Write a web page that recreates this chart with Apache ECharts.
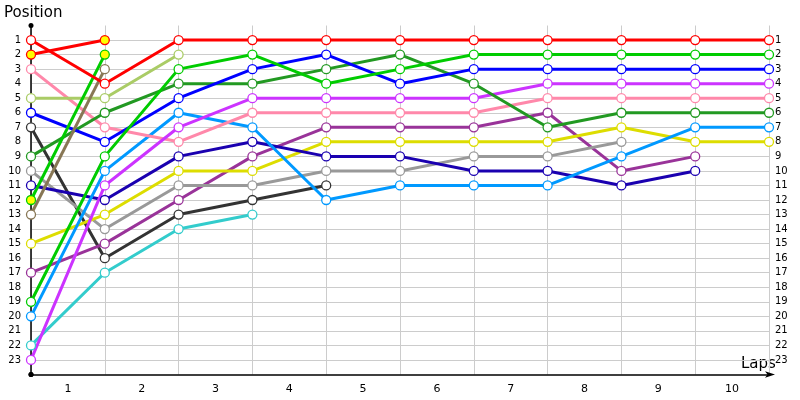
<!DOCTYPE html>
<html><head><meta charset="utf-8">
<script src="https://cdn.jsdelivr.net/npm/echarts@6/dist/echarts.min.js"></script>
<style>html,body{margin:0;padding:0;background:#fff}#c{width:800px;height:400px}</style>
</head><body><div id="c"></div>
<script>
const lapLabels = ['1','2','3','4','5','6','7','8','9','10'];
const posLabels = ['1','2','3','4','5','6','7','8','9','10','11','12','13','14','15','16','17','18','19','20','21','22','23'];

const redA      = [1,4,1,1,1,1,1,1,1,1,1];
const redB      = [2,1];
const pink      = [3,7,8,6,6,6,6,5,5,5,5];
const lightGreen= [5,5,2];
const blue      = [6,8,5,3,2,4,3,3,3,3,3];
const black     = [7,16,13,12,11];
const forest    = [9,6,4,4,3,2,4,7,6,6,6];
const gray      = [10,14,11,11,10,10,9,9,8];
const navy      = [11,12,9,8,9,9,10,10,11,10];
const greenB    = [12,2];
const olive     = [13,3];
const yellow    = [15,13,10,10,8,8,8,8,7,8,8];
const purple    = [17,15,12,9,7,7,7,6,10,9];
const green     = [19,9,3,2,4,3,2,2,2,2,2];
const sky       = [20,10,6,7,12,11,11,11,9,7,7];
const cyan      = [22,17,14,13];
const violet    = [23,11,7,5,5,5,5,4,4,4,4];

const seriesDefs = [
  {vals: cyan, color:'#33cccc'},
  {vals: black, color:'#333333'},
  {vals: purple, color:'#993399'},
  {vals: gray, color:'#999999'},
  {vals: yellow, color:'#dddd00'},
  {vals: navy, color:'#1a00b0'},
  {vals: sky, color:'#0099ff'},
  {vals: pink, color:'#ff88aa'},
  {vals: violet, color:'#cc33ff'},
  {vals: forest, color:'#229922'},
  {vals: blue, color:'#0000ff'},
  {vals: lightGreen, color:'#aacc66'},
  {vals: olive, color:'#887755'},
  {vals: green, color:'#00cc00'},
  {vals: greenB, color:'#00cc00', fill:'#ffff00'},
  {vals: redB, color:'#ff0000', fill:'#ffff00'},
  {vals: redA, color:'#ff0000'}
];

const series = seriesDefs.map(d => ({
  type:'line',
  xAxisIndex:0, yAxisIndex:0,
  data: d.vals.map((v,i)=>[i,v]),
  symbol:'circle', symbolSize:9,
  lineStyle:{color:d.color, width:3},
  itemStyle:{color: d.fill || '#ffffff', borderColor:d.color, borderWidth:1.3},
  emphasis:{disabled:true},
  z: 3
}));

const splitColors = [];
for (let i=0;i<=24;i++) splitColors.push((i===0||i===24)?'rgba(0,0,0,0)':'#cccccc');

const font = 'DejaVu Sans';
const chart = echarts.init(document.getElementById('c'), null, {renderer:'canvas'});
chart.setOption({
  animation:false,
  grid:{left:31, right:31, top:25.5, bottom:25.5, containLabel:false},
  xAxis:[
    {type:'value', min:0, max:10, interval:1, position:'bottom',
     axisLabel:{show:false}, axisTick:{show:false},
     axisLine:{show:true, onZero:false, lineStyle:{color:'#000', width:1.5}, symbol:['circle','arrow'], symbolSize:[5,10], symbolOffset:[0,6]},
     splitLine:{show:true, lineStyle:{color:'#cccccc', width:1}}},
    {type:'category', data:lapLabels, boundaryGap:true, position:'bottom',
     axisLine:{show:false, onZero:false}, axisTick:{show:false}, splitLine:{show:false},
     axisLabel:{color:'#000', fontFamily:font, fontSize:11, margin:9}}
  ],
  yAxis:[
    {type:'value', inverse:true, min:0, max:24, interval:1,
     axisLine:{show:true, onZero:false, lineStyle:{color:'#000', width:1.5}, symbol:['circle','circle'], symbolSize:[5,5]},
     axisTick:{show:false},
     axisLabel:{color:'#000', fontFamily:font, fontSize:10, margin:10,
       formatter:v => (v>=1 && v<=23) ? posLabels[v-1] : ''},
     splitLine:{show:true, lineStyle:{color:splitColors, width:1}}},
    {type:'value', inverse:true, min:0, max:24, interval:1, position:'right',
     axisLine:{show:false, onZero:false}, axisTick:{show:false}, splitLine:{show:false},
     axisLabel:{color:'#000', fontFamily:font, fontSize:10, margin:6,
       formatter:v => (v>=1 && v<=23) ? posLabels[v-1] : ''}}
  ],
  graphic:[
    {type:'text', left:4, top:6, style:{text:'Position', fontFamily:font, fontSize:15, fill:'#000'}},
    {type:'text', left:741, top:357, style:{text:'Laps', fontFamily:font, fontSize:15, fill:'#000'}}
  ],
  series: series
});
</script></body></html>
